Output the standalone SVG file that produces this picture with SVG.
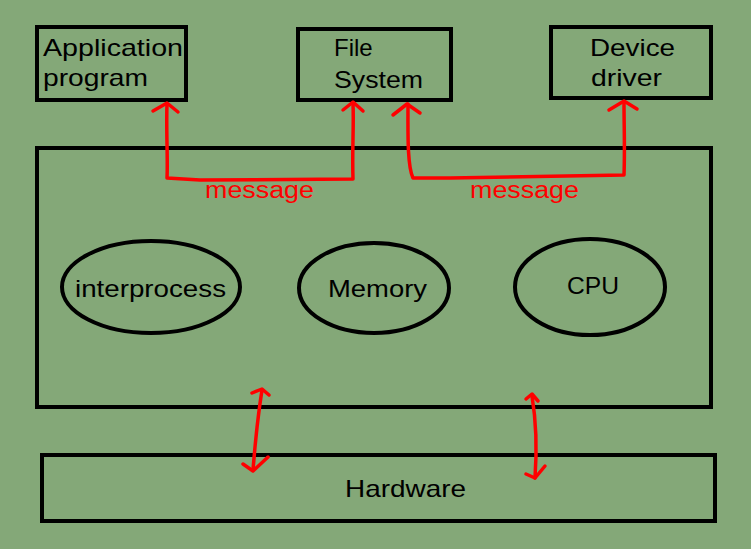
<svg xmlns="http://www.w3.org/2000/svg" width="751" height="549" viewBox="0 0 751 549">
<style>
.box{fill:none;stroke:#000;stroke-width:4}
.t{font-family:"Liberation Sans",Arial,sans-serif;font-size:24px;fill:#000}
.r{fill:none;stroke:#ff0000;stroke-width:3.5;stroke-linecap:round;stroke-linejoin:round}
.m{font-family:"Liberation Sans",Arial,sans-serif;font-size:23px;fill:#ff0000}
</style>
<rect width="751" height="549" fill="#84a878"/>
<g id="app"><rect class="box" x="37" y="27" width="149" height="73"/><text class="t" x="43" y="56" textLength="140" lengthAdjust="spacingAndGlyphs">Application</text><text class="t" x="43" y="86" textLength="105" lengthAdjust="spacingAndGlyphs">program</text></g>
<g id="fs"><rect class="box" x="298" y="29" width="153" height="71"/><text class="t" x="334" y="56">File</text><text class="t" x="334" y="88" textLength="89" lengthAdjust="spacingAndGlyphs">System</text></g>
<g id="dd"><rect class="box" x="551" y="27" width="160" height="71"/><text class="t" x="590" y="56" textLength="85" lengthAdjust="spacingAndGlyphs">Device</text><text class="t" x="591" y="86" textLength="71" lengthAdjust="spacingAndGlyphs">driver</text></g>
<g id="kernel"><rect class="box" x="37" y="148" width="674" height="259"/></g>
<g id="ipc"><ellipse class="box" cx="151" cy="287" rx="89" ry="46"/><text class="t" x="75" y="297" textLength="151" lengthAdjust="spacingAndGlyphs">interprocess</text></g>
<g id="mem"><ellipse class="box" cx="374" cy="288" rx="75" ry="45"/><text class="t" x="328" y="297" textLength="99" lengthAdjust="spacingAndGlyphs">Memory</text></g>
<g id="cpu"><ellipse class="box" cx="590" cy="287" rx="75" ry="48"/><text class="t" x="567" y="294" textLength="52" lengthAdjust="spacingAndGlyphs">CPU</text></g>
<g id="hw"><rect class="box" x="42" y="455" width="673" height="66"/><text class="t" x="345" y="497" textLength="121" lengthAdjust="spacingAndGlyphs">Hardware</text></g>
<g id="connectors">
<path class="r" d="M167,104 C166,130 168,160 167,178 L200,180 L353,179 C352,150 354,125 353,104"/>
<path class="r" d="M153,111 L167,103 L178,112"/>
<path class="r" d="M343,110 L353,102 L363,111"/>
<text class="m" x="205" y="198" textLength="109" lengthAdjust="spacingAndGlyphs">message</text>
<path class="r" d="M408,104 C408,130 407,165 413,178 L450,178 L624,175 C625,150 624,125 624,103"/>
<path class="r" d="M393,115 L407,104 L420,113"/>
<path class="r" d="M609,110 L624,101 L637,109"/>
<text class="m" x="470" y="198" textLength="109" lengthAdjust="spacingAndGlyphs">message</text>
<path class="r" d="M262,390 C258,415 255,445 253,470"/>
<path class="r" d="M252,393 L262,389 L269,395"/>
<path class="r" d="M243,464 L253,471 L268,457"/>
<path class="r" d="M532,396 C536,420 537,450 535,478"/>
<path class="r" d="M526,399 L532,394 L538,401"/>
<path class="r" d="M526,474 L535,478 L545,466"/>
</g>
</svg>
